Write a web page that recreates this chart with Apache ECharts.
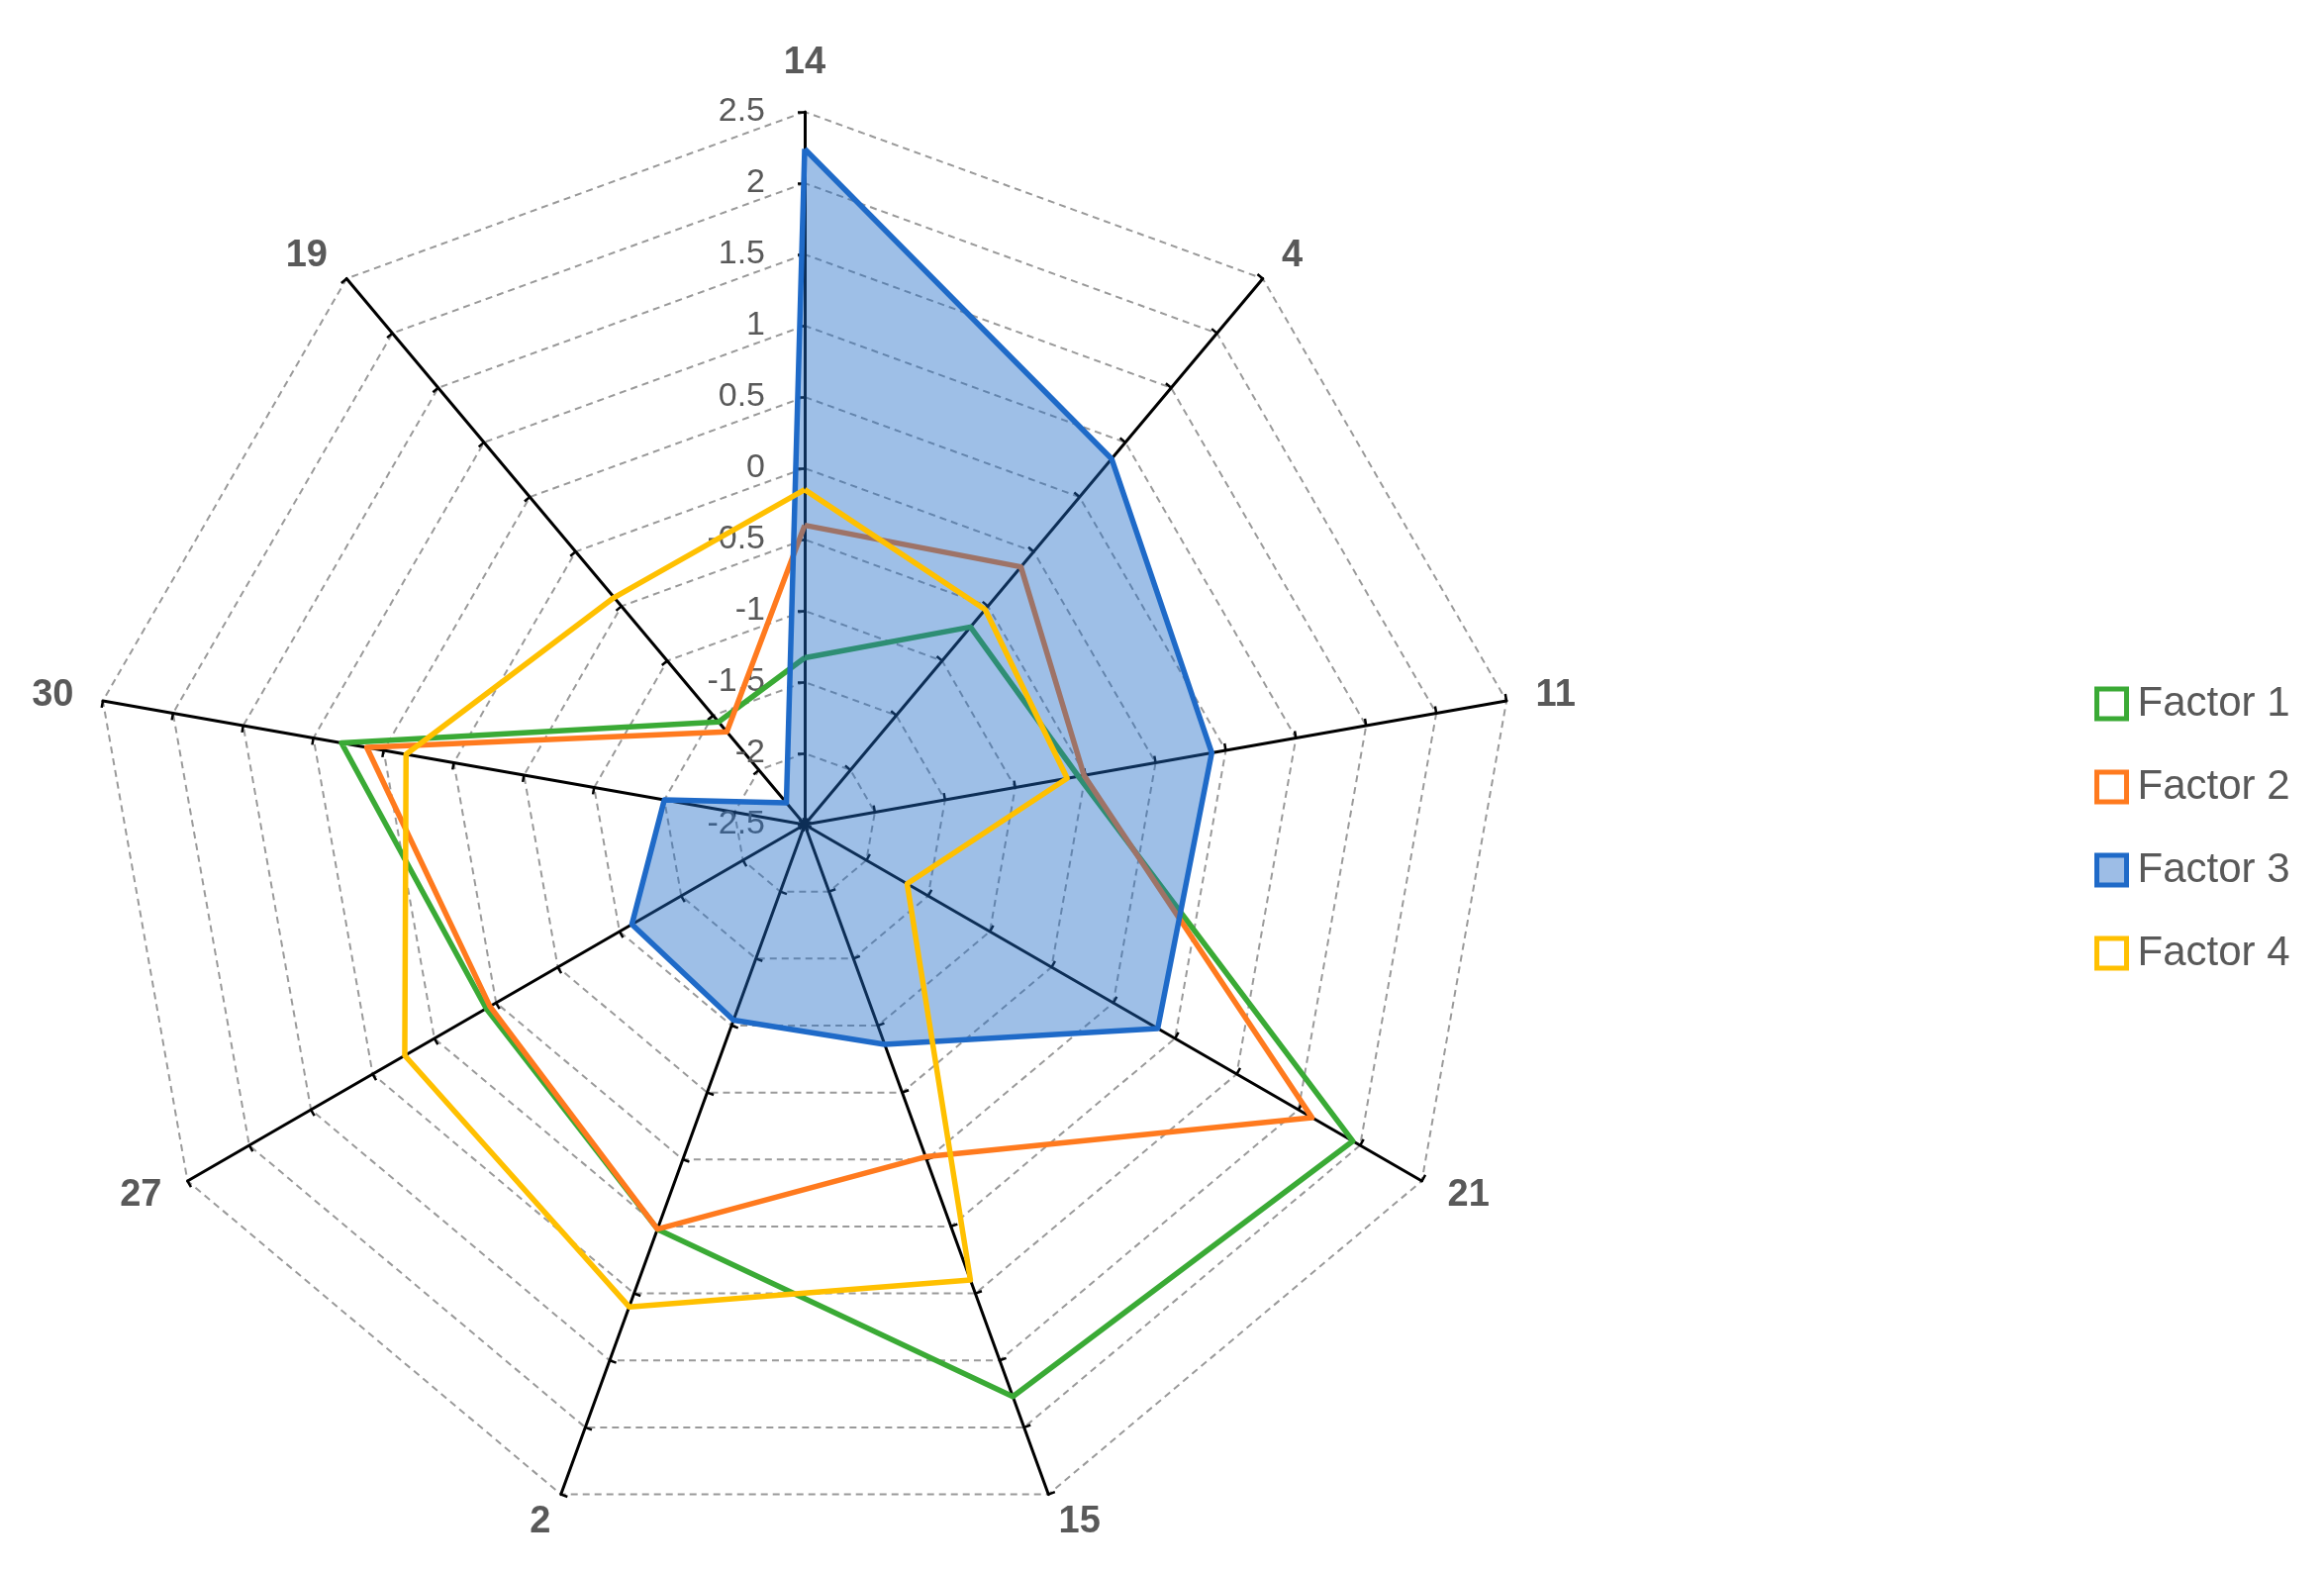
<!DOCTYPE html>
<html><head><meta charset="utf-8">
<script src="https://cdn.jsdelivr.net/npm/echarts@6/dist/echarts.min.js"></script>
<style>html,body{margin:0;padding:0;background:#fff}#c{width:2348px;height:1589px}</style>
</head><body><div id="c"></div>
<script>
// Categories listed clockwise starting at the top, as in the reference
const categories = ['14', '4', '11', '21', '15', '2', '27', '30', '19'];
const factor1 = [-1.33, -0.69, -0.55, 1.94, 1.77, 0.52, 0.08, 0.80, -1.56];
const factor2 = [-0.40, -0.14, -0.51, 1.61, -0.02, 0.52, 0.05, 0.62, -1.65];
const factor3 = [2.24, 0.85, 0.40, 0.36, -0.86, -1.04, -1.10, -1.50, -2.30];
const factor4 = [-0.15, -0.53, -0.63, -1.67, 0.90, 1.10, 0.74, 0.34, -0.42];
const seriesNames = ['Factor 1', 'Factor 2', 'Factor 3', 'Factor 4'];
const axisMin = -2.5, axisMax = 2.5, axisSplits = 10;

const colors = ['#3AAA35', '#FF7A1E', '#1F6AC8', '#FFC000'];

// ECharts lays indicators out counter-clockwise; reorder so they read clockwise.
const order = [0].concat(categories.map((_, i) => i).slice(1).reverse());
const reorder = arr => order.map(i => arr[i]);

const indicator = reorder(categories).map((name, i) => {
  const o = { name: name, min: axisMin, max: axisMax };
  if (i === 0) o.axisLabel = { show: true };
  return o;
});

const allValues = [factor1, factor2, factor3, factor4];

const series = [{
  type: 'radar',
  symbol: 'none',
  z: 2,
  data: allValues.map((vals, i) => {
    const d = {
      name: seriesNames[i],
      value: reorder(vals),
      lineStyle: { color: colors[i], width: 5.5 },
      itemStyle: { color: colors[i] }
    };
    if (i === 2) d.areaStyle = { color: colors[2], opacity: 0.43 };
    return d;
  })
}];

const chart = echarts.init(document.getElementById('c'), null, { renderer: 'canvas' });
chart.setOption({
  animation: false,
  backgroundColor: '#ffffff',
  legend: {
    orient: 'vertical',
    left: 2116,
    top: 690,
    itemWidth: 30,
    itemHeight: 30,
    itemGap: 42,
    icon: 'rect',
    padding: 0,
    textStyle: { fontSize: 42, color: '#595959', fontFamily: 'Liberation Sans', padding: [0, 0, 0, 6] },
    data: seriesNames.map((n, i) => ({
      name: n,
      itemStyle: i === 2
        ? { color: '#9DBDE6', borderColor: colors[2], borderWidth: 5 }
        : { color: '#ffffff', borderColor: colors[i], borderWidth: 5 }
    }))
  },
  radar: {
    center: [813, 833],
    radius: 720,
    startAngle: 90,
    shape: 'polygon',
    splitNumber: axisSplits,
    indicator: indicator,
    nameGap: 30,
    axisName: { color: '#595959', fontSize: 38, fontWeight: 'bold', fontFamily: 'Liberation Sans' },
    axisLine: { lineStyle: { color: '#000000', width: 3 } },
    axisTick: { show: true, length: 7, lineStyle: { color: '#000000', width: 2.5 } },
    axisLabel: { show: false, color: '#595959', fontSize: 34, fontFamily: 'Liberation Sans', margin: 40, showMinLabel: true, showMaxLabel: true },
    splitLine: { lineStyle: { color: '#9A9A9A', width: 2, type: [7, 5] } },
    splitArea: { show: false }
  },
  series: series
});
</script>
</body></html>
